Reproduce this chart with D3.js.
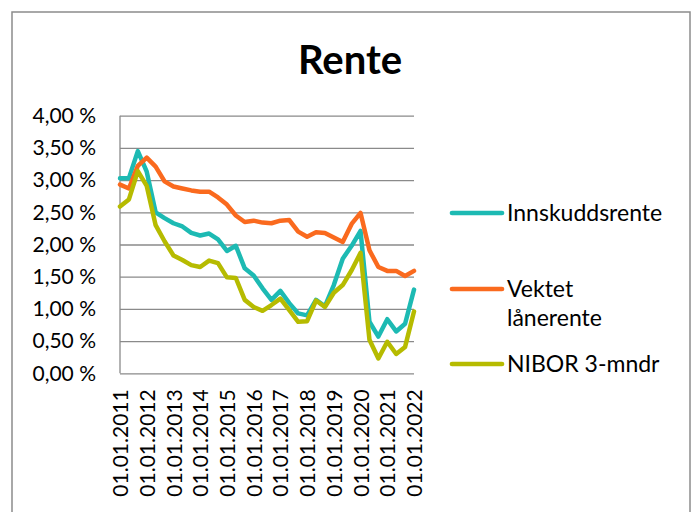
<!DOCTYPE html>
<html>
<head>
<meta charset="utf-8">
<script src="https://cdn.jsdelivr.net/npm/d3@7"></script>
<style>
  html, body { margin: 0; padding: 0; background: #fff; }
  svg { display: block; }
  text { font-family: Lato, "Open Sans", sans-serif; fill: #000; }
</style>
</head>
<body>
<svg id="chart" width="697" height="512"></svg>
<script>
// one point every 4 months, 01.01.2011 .. 01.01.2022
var tickLabels = ["01.01.2011", "01.01.2012", "01.01.2013", "01.01.2014", "01.01.2015", "01.01.2016",
    "01.01.2017", "01.01.2018", "01.01.2019", "01.01.2020", "01.01.2021", "01.01.2022"];
var yTicks = [0, 0.5, 1, 1.5, 2, 2.5, 3, 3.5, 4];

var innskudd = [3.03, 3.03, 3.45, 3.13, 2.50, 2.41, 2.33, 2.28, 2.18, 2.14, 2.17, 2.08, 1.90, 1.98, 1.63, 1.52, 1.32,
    1.14, 1.28, 1.09, 0.93, 0.90, 1.14, 1.04, 1.37, 1.78, 1.98, 2.21, 0.80, 0.57, 0.84, 0.65, 0.77, 1.30];
var laan = [2.93, 2.87, 3.22, 3.35, 3.21, 2.98, 2.90, 2.87, 2.84, 2.82, 2.82, 2.73, 2.62, 2.45, 2.35, 2.37, 2.34,
    2.33, 2.37, 2.38, 2.20, 2.12, 2.19, 2.18, 2.11, 2.04, 2.32, 2.49, 1.91, 1.65, 1.59, 1.59, 1.51, 1.59];
var nibor = [2.59, 2.70, 3.14, 2.91, 2.30, 2.05, 1.83, 1.76, 1.68, 1.65, 1.75, 1.71, 1.49, 1.48, 1.14, 1.03, 0.97,
    1.06, 1.16, 0.98, 0.80, 0.81, 1.13, 1.03, 1.25, 1.37, 1.60, 1.87, 0.52, 0.23, 0.49, 0.30, 0.41, 0.96];

var series = [
    {name: ["Innskuddsrente"], values: innskudd, color: "#1dbab3", ly: 213},
    {name: ["Vektet", "lånerente"], values: laan, color: "#fa6a1e", ly: 289},
    {name: ["NIBOR 3-mndr"], values: nibor, color: "#b6bb00", ly: 364}
];

var svg = d3.select("#chart");
var m = {left: 120, right: 414, top: 115.7, bottom: 373.3};

var x = d3.scaleLinear().domain([0, innskudd.length - 1]).range([m.left, m.right]);
var y = d3.scaleLinear().domain([0, 4]).range([m.bottom, m.top]);
var fmt = function (v) { return d3.format(".2f")(v).replace(".", ",") + " %"; };

// outer frame
svg.append("rect").attr("x", 12).attr("y", 12).attr("width", 678).attr("height", 520)
    .attr("fill", "none").attr("stroke", "#8c8c8c").attr("stroke-width", 1.5);

svg.append("text").attr("x", 350).attr("y", 74).attr("text-anchor", "middle")
    .style("font-size", "40px").style("font-weight", "bold").text("Rente");

// y axis with gridlines
var yAxis = d3.axisLeft(y).tickValues(yTicks).tickFormat(fmt).tickSize(m.left - m.right).tickPadding(24);
var gy = svg.append("g").attr("transform", "translate(" + m.left + ",0)").call(yAxis);
gy.select(".domain").remove();
gy.selectAll("line").attr("stroke", "#8a8a8a").attr("stroke-width", 1.3);
gy.selectAll("text").style("font-size", "21px").style("font-family", "Lato, sans-serif").attr("x", -24);

svg.append("line").attr("x1", m.left).attr("x2", m.left).attr("y1", m.top).attr("y2", m.bottom)
    .attr("stroke", "#8a8a8a").attr("stroke-width", 1.3);

// x axis labels, every third point
var xAxis = d3.axisBottom(x).tickValues(d3.range(0, innskudd.length, 3))
    .tickFormat(function (d, i) { return tickLabels[i]; }).tickSize(0);
var gx = svg.append("g").attr("transform", "translate(0," + m.bottom + ")").call(xAxis);
gx.select(".domain").remove();
gx.selectAll("text").style("font-size", "21px").style("font-family", "Lato, sans-serif")
    .attr("text-anchor", "end").attr("transform", "rotate(-90)")
    .attr("x", -16).attr("y", 0).attr("dy", "0.36em");

var line = d3.line().x(function (d, i) { return x(i); }).y(function (d) { return y(d); });

svg.selectAll("path.serie").data(series).enter().append("path").attr("class", "serie")
    .attr("d", function (s) { return line(s.values); })
    .attr("fill", "none").attr("stroke", function (s) { return s.color; })
    .attr("stroke-width", 4.5).attr("stroke-linejoin", "round").attr("stroke-linecap", "round");

// legend
var lg = svg.selectAll("g.leg").data(series).enter().append("g").attr("class", "leg")
    .attr("transform", function (s) { return "translate(452," + s.ly + ")"; });
lg.append("line").attr("x1", 0).attr("x2", 50).attr("stroke", function (s) { return s.color; })
    .attr("stroke-width", 4.7).attr("stroke-linecap", "round");
lg.each(function (s) {
    var t = d3.select(this).append("text").attr("x", 55).attr("y", 0).style("font-size", "23px");
    s.name.forEach(function (n, k) {
        t.append("tspan").attr("x", 55).attr("dy", k ? "1.25em" : "0.36em").text(n);
    });
});
</script>
</body>
</html>
